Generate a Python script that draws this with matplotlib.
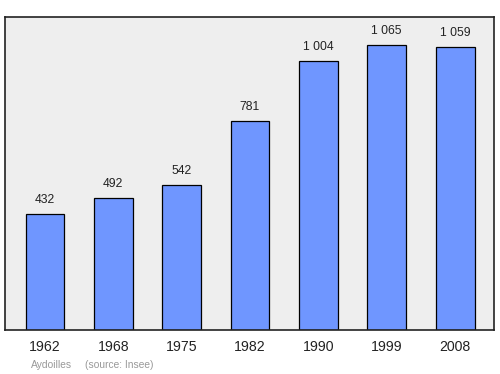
import matplotlib
matplotlib.use("Agg")
import matplotlib.pyplot as plt

years = ["1962", "1968", "1975", "1982", "1990", "1999", "2008"]
population = [432, 492, 542, 781, 1004, 1065, 1059]
labels = ["432", "492", "542", "781", "1 004", "1 065", "1 059"]

plt.rcParams['font.family'] = ['Liberation Sans', 'DejaVu Sans']

fig = plt.figure(figsize=(5, 3.74), dpi=100)
ax = fig.add_axes([0.01, 0.1176, 0.978, 0.8369])
ax.set_facecolor("#eeeeee")

x = list(range(len(years)))
ax.bar(x, population, width=0.57, color="#6f96ff", edgecolor="black", linewidth=0.9, zorder=2)
for xi, v, lab in zip(x, population, labels):
    ax.text(xi, v + 30, lab, ha="center", va="bottom", fontsize=8.7, color="#222222")

ax.set_xlim(-0.585, 6.57)
ax.set_ylim(0, 1170)
ax.set_yticks([])
ax.set_xticks(x)
ax.set_xticklabels(years, fontsize=10.2, color="#222222")
ax.tick_params(axis="x", length=0, pad=7.5)
for s in ax.spines.values():
    s.set_linewidth(1.2)
    s.set_color("#222222")

fig.text(0.062, 0.016, "Aydoilles", fontsize=7.4, color="#999999")
fig.text(0.17, 0.016, "(source: Insee)", fontsize=7.4, color="#999999")

fig.savefig("out.png", dpi=100)
